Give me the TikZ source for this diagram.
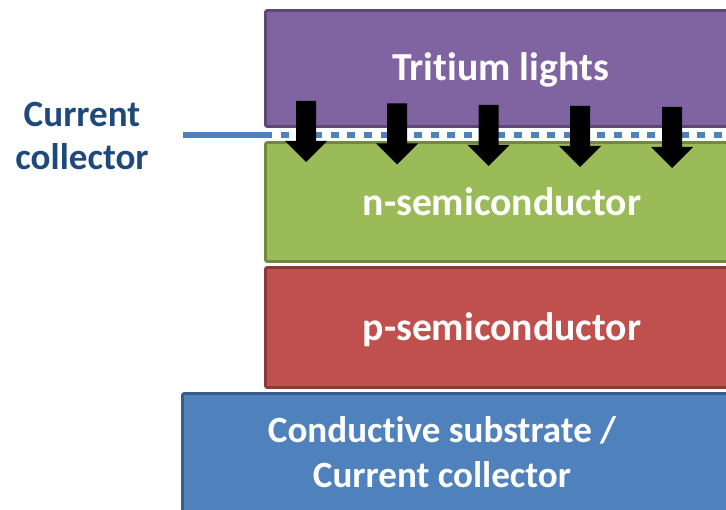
\documentclass[tikz,border=0pt]{standalone}
\usepackage{fontspec}
\setmainfont{Carlito}[Ligatures=NoCommon]
\definecolor{tritium}{HTML}{8064A2}
\definecolor{tritiumdark}{HTML}{5C4776}
\definecolor{nsemi}{HTML}{9BBB59}
\definecolor{nsemidark}{HTML}{71893F}
\definecolor{psemi}{HTML}{C0504D}
\definecolor{psemidark}{HTML}{8C3836}
\definecolor{substrate}{HTML}{4F81BD}
\definecolor{substratedark}{HTML}{385D8A}
\definecolor{labelblue}{HTML}{1F497D}
\tikzset{
  layer/.style={line width=2.2pt, rounded corners=1.5pt},
  layertext/.style={text=white, anchor=base, font=\bfseries\fontsize{29.8}{36}\selectfont},
  substratetext/.style={layertext, font=\bfseries\fontsize{27.8}{34}\selectfont},
  sidetext/.style={text=labelblue, anchor=base, font=\bfseries\fontsize{27.8}{34}\selectfont},
  collector/.style={substrate, line width=5pt},
}

\begin{document}
\begin{tikzpicture}[x=0.75pt,y=-0.75pt]
  \useasboundingbox (0,0) rectangle (726,510);
  \clip (0,0) rectangle (726,510);

  %layers
  \draw[layer,fill=tritium,draw=tritiumdark] (265.5,10.5) rectangle (760,126.5);
  \draw[layer,fill=nsemi,draw=nsemidark] (265.5,142.5) rectangle (760,261.5);
  \draw[layer,fill=psemi,draw=psemidark] (265.5,267.5) rectangle (760,387.5);
  \draw[layer,fill=substrate,draw=substratedark] (182.5,393.5) rectangle (760,530);

  %current collector line
  \draw[collector] (183,135) -- (264,135);
  \draw[collector,dash pattern=on 6pt off 6.5pt] (264,135) -- (726,135);

  %arrows
  \foreach \ax/\ad in {306/0, 397/2.5, 488.5/4, 580/5, 672/6}
    \fill[black] (\ax-10,101+\ad) -- (\ax+10,101+\ad) -- (\ax+10,141+\ad) -- (\ax+21,141+\ad)
      -- (\ax,162+\ad) -- (\ax-21,141+\ad) -- (\ax-10,141+\ad) -- cycle;

  %labels
  \node[layertext] (tritiumlbl) at (500.5,81) {Tritium lights};
  \node[layertext] (nsemilbl) at (502,215) {n-semiconductor};
  \node[layertext] (psemilbl) at (502,340) {p-semiconductor};
  \node[substratetext] (substratelbl1) at (442,442) {Conductive substrate /};
  \node[substratetext] (substratelbl2) at (442,487) {Current collector};
  \node[sidetext] (collectorlbl1) at (82,127) {Current};
  \node[sidetext] (collectorlbl2) at (82,170) {collector};
\end{tikzpicture}
\end{document}
